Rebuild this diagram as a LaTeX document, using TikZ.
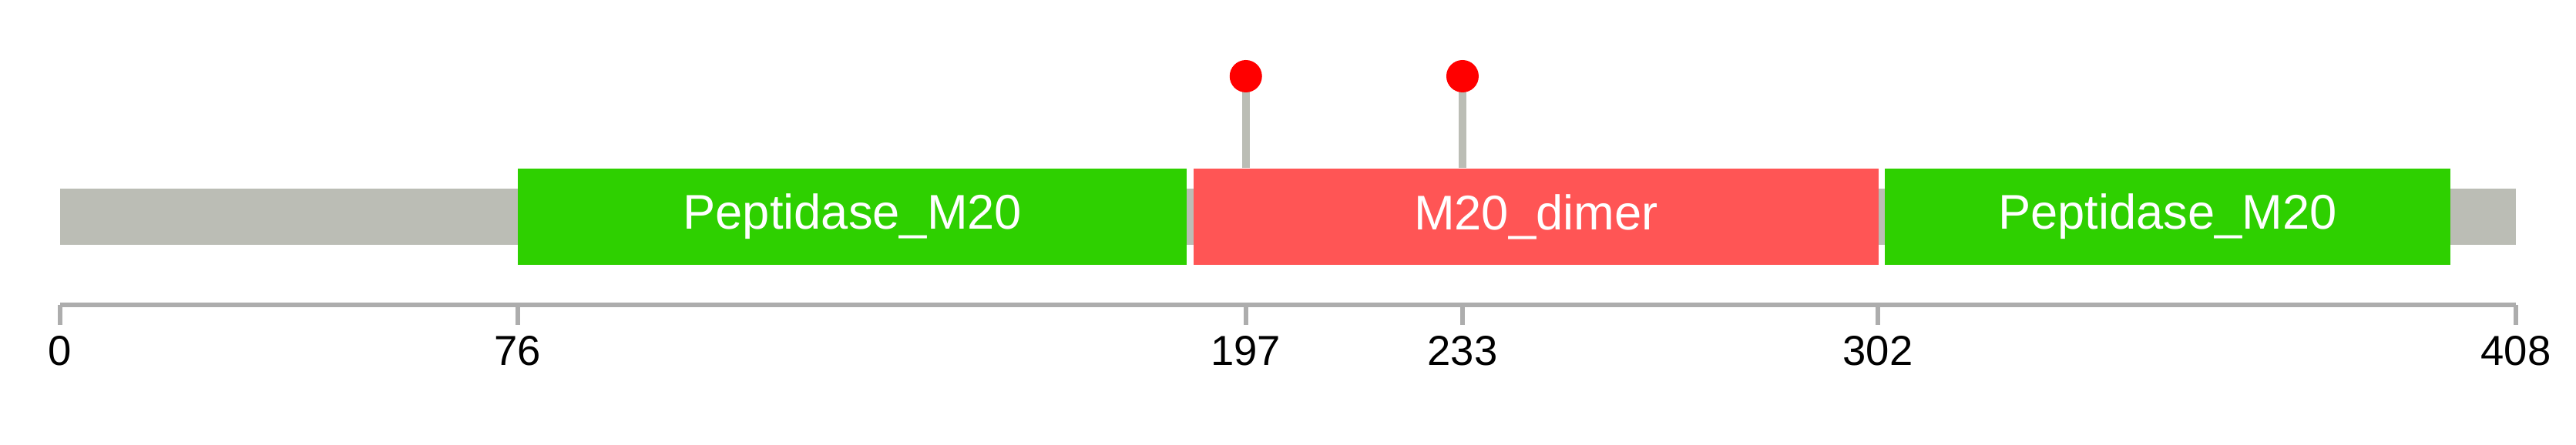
\documentclass[tikz,border=0pt]{standalone}
\usepackage{fontspec}
\setmainfont{Liberation Sans}
\usepackage{tikz}
\usetikzlibrary{positioning}
\definecolor{chain}{RGB}{187,189,181}
\definecolor{pfgreen}{RGB}{46,208,0}
\definecolor{pfred}{RGB}{255,85,85}
\definecolor{axisgray}{RGB}{173,173,173}
\tikzset{
  pfbox/.style={rectangle,draw=none,inner sep=0pt,minimum height=1.25cm,
    anchor=west,text=white,font=\fontsize{18}{21}\selectfont},
  stem/.style={draw=chain,line width=2.9pt},
  head/.style={circle,fill=red,draw=none,inner sep=0pt,minimum size=0.42cm},
  axisline/.style={draw=axisgray,line width=1.7pt},
  ticklab/.style={anchor=base,inner sep=0pt,font=\fontsize{15.5}{18}\selectfont}
}
\begin{document}
\begin{tikzpicture}
 \useasboundingbox (0,0) rectangle (33.43,5.78);
 \begin{scope}[xshift=0.78cm,x=0.07811cm]
  % protein chain
  \fill[chain] (0,2.60) rectangle (408,3.33);
  % Pfam domains
  \node[pfbox,fill=pfgreen,minimum width=8.68cm] (pepA) at (76,2.965) {Peptidase\_M20};
  \node[pfbox,fill=pfred,minimum width=8.89cm] (dimer) at (188.2,2.965) {M20\_dimer};
  \node[pfbox,fill=pfgreen,minimum width=7.34cm] (pepB) at (303.1,2.965) {Peptidase\_M20};
  % mutation sites
  \coordinate (tipA) at (197,4.79);
  \coordinate (tipB) at (233,4.79);
  \draw[stem] (dimer.north -| tipA) -- (tipA);
  \draw[stem] (dimer.north -| tipB) -- (tipB);
  \node[head] (mutA) at (tipA) {};
  \node[head] (mutB) at (tipB) {};
  % position axis
  \draw[axisline] (0,1.82) -- (408,1.82);
  \foreach \p in {0,76,197,233,302,408} {
    \draw[axisline] (\p,1.82) -- (\p,1.56);
    \node[ticklab] (t\p) at (\p,1.03) {\p};
  }
 \end{scope}
\end{tikzpicture}
\end{document}
